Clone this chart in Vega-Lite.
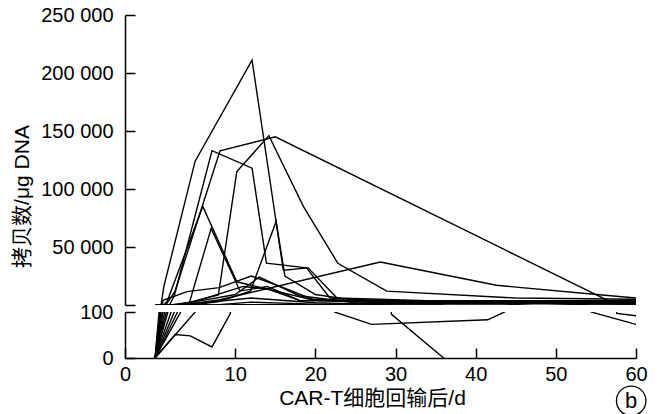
{
  "$schema": "https://vega.github.io/schema/vega-lite/v6.json",
  "padding": {"left": 11, "top": 5, "right": 10, "bottom": 0},
  "background": "white",
  "bounds": "flush",
  "spacing": 7,
  "config": {
    "view": {"stroke": null},
    "font": "Liberation Sans, Noto Sans CJK SC, sans-serif",
    "axis": {
      "domainColor": "black", "domainWidth": 1.5,
      "tickColor": "black", "tickWidth": 1.5, "tickSize": -10,
      "labelColor": "black", "labelFontSize": 20, "labelPadding": 22,
      "titleColor": "black", "titleFontSize": 21, "titleFontWeight": "normal",
      "grid": false, "labelFlush": false, "labelOverlap": false
    }
  },
  "datasets": {
    "copies": [
      {"id": "A", "day": 0, "copies": 0}, {"id": "A", "day": 0.75, "copies": 150}, {"id": "A", "day": 1.1, "copies": 16000}, {"id": "A", "day": 5.0, "copies": 124000}, {"id": "A", "day": 12.1, "copies": 211000}, {"id": "A", "day": 16.0, "copies": 30000}, {"id": "A", "day": 19.1, "copies": 32000}, {"id": "A", "day": 22.7, "copies": 6000}, {"id": "A", "day": 35, "copies": 3500}, {"id": "A", "day": 60, "copies": 2500},
      {"id": "B", "day": 0, "copies": 0}, {"id": "B", "day": 1.35, "copies": 150}, {"id": "B", "day": 2.5, "copies": 12000}, {"id": "B", "day": 8.1, "copies": 133000}, {"id": "B", "day": 15.0, "copies": 145000}, {"id": "B", "day": 57.6, "copies": 97}, {"id": "B", "day": 60, "copies": 92},
      {"id": "C", "day": 0, "copies": 0}, {"id": "C", "day": 1.8, "copies": 150}, {"id": "C", "day": 2.4, "copies": 8000}, {"id": "C", "day": 7.1, "copies": 133000}, {"id": "C", "day": 12.1, "copies": 118000}, {"id": "C", "day": 13.9, "copies": 36000}, {"id": "C", "day": 18.9, "copies": 32000}, {"id": "C", "day": 21.8, "copies": 6000}, {"id": "C", "day": 30, "copies": 3000}, {"id": "C", "day": 60, "copies": 4000},
      {"id": "D", "day": 0, "copies": 0}, {"id": "D", "day": 3.0, "copies": 150}, {"id": "D", "day": 7.9, "copies": 8600}, {"id": "D", "day": 10.2, "copies": 115000}, {"id": "D", "day": 14.2, "copies": 146000}, {"id": "D", "day": 18.5, "copies": 85000}, {"id": "D", "day": 22.8, "copies": 36000}, {"id": "D", "day": 28.9, "copies": 12000}, {"id": "D", "day": 45, "copies": 6000}, {"id": "D", "day": 60, "copies": 5000},
      {"id": "E", "day": 0, "copies": 0}, {"id": "E", "day": 1.1, "copies": 150}, {"id": "E", "day": 1.5, "copies": 3000}, {"id": "E", "day": 5.95, "copies": 85000}, {"id": "E", "day": 10.2, "copies": 20000}, {"id": "E", "day": 14.4, "copies": 13000}, {"id": "E", "day": 19.3, "copies": 5000}, {"id": "E", "day": 30, "copies": 3000}, {"id": "E", "day": 60, "copies": 2000},
      {"id": "F", "day": 0, "copies": 0}, {"id": "F", "day": 4.2, "copies": 150}, {"id": "F", "day": 7.0, "copies": 66000}, {"id": "F", "day": 10.6, "copies": 12000}, {"id": "F", "day": 14, "copies": 16000}, {"id": "F", "day": 18, "copies": 4000}, {"id": "F", "day": 40, "copies": 2500}, {"id": "F", "day": 60, "copies": 3000},
      {"id": "G", "day": 0, "copies": 0}, {"id": "G", "day": 4.8, "copies": 150}, {"id": "G", "day": 8, "copies": 3000}, {"id": "G", "day": 11.9, "copies": 12000}, {"id": "G", "day": 15.1, "copies": 72000}, {"id": "G", "day": 16.2, "copies": 25000}, {"id": "G", "day": 20, "copies": 9000}, {"id": "G", "day": 25, "copies": 4000}, {"id": "G", "day": 60, "copies": 3500},
      {"id": "H", "day": 0, "copies": 0}, {"id": "H", "day": 3.6, "copies": 150}, {"id": "H", "day": 8.1, "copies": 4500}, {"id": "H", "day": 28.1, "copies": 37000}, {"id": "H", "day": 42.6, "copies": 17000}, {"id": "H", "day": 55.1, "copies": 9000}, {"id": "H", "day": 60, "copies": 6000},
      {"id": "J", "day": 0, "copies": 0}, {"id": "J", "day": 2.5, "copies": 51}, {"id": "J", "day": 4.4, "copies": 48}, {"id": "J", "day": 7.1, "copies": 24}, {"id": "J", "day": 9.4, "copies": 97}, {"id": "J", "day": 9.8, "copies": 300}, {"id": "J", "day": 19.3, "copies": 200}, {"id": "J", "day": 30, "copies": 1500}, {"id": "J", "day": 60, "copies": 800},
      {"id": "K", "day": 0, "copies": 0}, {"id": "K", "day": 7.5, "copies": 150}, {"id": "K", "day": 12, "copies": 2500}, {"id": "K", "day": 18, "copies": 1200}, {"id": "K", "day": 22.4, "copies": 100}, {"id": "K", "day": 27, "copies": 73}, {"id": "K", "day": 41.5, "copies": 83}, {"id": "K", "day": 43.6, "copies": 100}, {"id": "K", "day": 48, "copies": 1500}, {"id": "K", "day": 54.4, "copies": 100}, {"id": "K", "day": 60, "copies": 73},
      {"id": "M", "day": 0, "copies": 0}, {"id": "M", "day": 0.9, "copies": 150}, {"id": "M", "day": 1.0, "copies": 4000}, {"id": "M", "day": 4.0, "copies": 11500}, {"id": "M", "day": 8, "copies": 15000}, {"id": "M", "day": 12, "copies": 25000}, {"id": "M", "day": 16, "copies": 15000}, {"id": "M", "day": 20, "copies": 4000}, {"id": "M", "day": 60, "copies": 3000},
      {"id": "N", "day": 0, "copies": 0}, {"id": "N", "day": 2.1, "copies": 150}, {"id": "N", "day": 6, "copies": 4000}, {"id": "N", "day": 10, "copies": 9000}, {"id": "N", "day": 13, "copies": 24000}, {"id": "N", "day": 18, "copies": 8000}, {"id": "N", "day": 25, "copies": 2000}, {"id": "N", "day": 60, "copies": 1500},
      {"id": "O", "day": 0, "copies": 0}, {"id": "O", "day": 2.4, "copies": 150}, {"id": "O", "day": 5, "copies": 3000}, {"id": "O", "day": 11, "copies": 16000}, {"id": "O", "day": 14, "copies": 14000}, {"id": "O", "day": 18, "copies": 4000}, {"id": "O", "day": 30, "copies": 2000}, {"id": "O", "day": 50, "copies": 3000}, {"id": "O", "day": 60, "copies": 2500},
      {"id": "P", "day": 0, "copies": 0}, {"id": "P", "day": 1.5, "copies": 150}, {"id": "P", "day": 6, "copies": 2000}, {"id": "P", "day": 12, "copies": 6000}, {"id": "P", "day": 20, "copies": 2000}, {"id": "P", "day": 28, "copies": 300}, {"id": "P", "day": 29.5, "copies": 95}, {"id": "P", "day": 36, "copies": 0}
    ]
  },
  "vconcat": [
    {
      "width": 511, "height": 290,
      "data": {"name": "copies"},
      "mark": {"type": "line", "clip": true, "color": "black", "strokeWidth": 1.4},
      "encoding": {
        "x": {"field": "day", "type": "quantitative", "scale": {"domain": [-3.75, 60], "nice": false, "zero": false}, "axis": null},
        "y": {"field": "copies", "type": "quantitative", "scale": {"domain": [0, 250000], "nice": false},
          "axis": {"values": [0, 50000, 100000, 150000, 200000, 250000],
            "labelExpr": "datum.value == 0 ? '' : replace(format(datum.value, ','), ',', ' ')",
            "title": "拷贝数/μg DNA", "titleY": 181, "titlePadding": 8}},
        "detail": {"field": "id"}
      }
    },
    {
      "width": 511, "height": 46,
      "layer": [
        {
          "data": {"name": "copies"},
          "mark": {"type": "line", "clip": true, "color": "black", "strokeWidth": 1.4},
          "encoding": {
            "x": {"field": "day", "type": "quantitative", "scale": {"domain": [-3.75, 60], "nice": false, "zero": false},
              "axis": {"values": [-3.75, 10, 20, 30, 40, 50, 60], "labelExpr": "datum.value < 0 ? '0' : datum.label",
                "labelPadding": 16, "title": "CAR-T细胞回输后/d", "titleX": 247, "titlePadding": 3}},
            "y": {"field": "copies", "type": "quantitative", "scale": {"domain": [0, 100], "nice": false},
              "axis": {"values": [0, 50, 100], "title": null}},
            "detail": {"field": "id"}
          }
        },
        {
          "mark": {"type": "rule", "color": "black", "strokeWidth": 1.4, "strokeDash": [8, 5]},
          "encoding": {"y": {"datum": 50}}
        },
        {
          "data": {"values": [{"day": 59.4, "copies": -93, "tag": "b"}]},
          "mark": {"type": "point", "shape": "circle", "filled": false, "color": "black", "strokeWidth": 1.3, "size": 870, "opacity": 1, "clip": false},
          "encoding": {"x": {"field": "day", "type": "quantitative"}, "y": {"field": "copies", "type": "quantitative"}}
        },
        {
          "data": {"values": [{"day": 59.4, "copies": -93, "tag": "b"}]},
          "mark": {"type": "text", "fontSize": 22, "color": "black", "baseline": "middle", "align": "center", "clip": false},
          "encoding": {"x": {"field": "day", "type": "quantitative"}, "y": {"field": "copies", "type": "quantitative"}, "text": {"field": "tag"}}
        }
      ]
    }
  ]
}
